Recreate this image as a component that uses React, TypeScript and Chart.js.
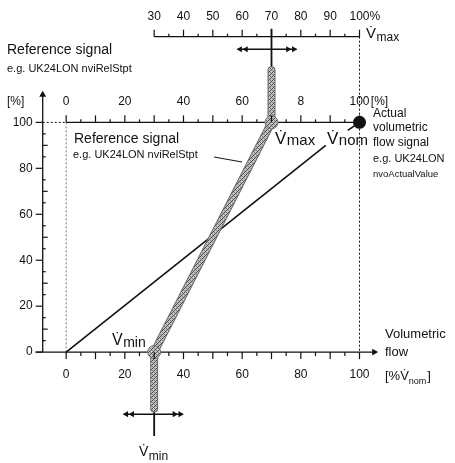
import React, { useEffect, useRef } from 'react';
import { Chart, registerables } from 'chart.js';

Chart.register(...registerables);

const FONT = '"Liberation Sans", Arial, Helvetica, sans-serif';

// Characteristic curves (x = volumetric flow in % of V̇nom, y = signal in %)
const referenceX = [70, 70, 30, 30];
const referenceY = [122.7, 100, 0, -24.5];
const actualX = [0, 88.5];
const actualY = [0, 90];
const settingX = [70, 30]; // V̇max, V̇min
const settingY = [100, 0];
const nominalX = [100];
const nominalY = [100];

// Axis ticks and labels
const flowTicks = [0, 20, 40, 60, 80, 100];
const flowLabels = ['0', '20', '40', '60', '80', '100'];
const signalTicks = [0, 20, 40, 60, 80, 100];
const signalLabels = ['0', '20', '40', '60', '80', '100'];
const topTicks = [0, 20, 40, 60, 80, 100];
const topLabels = ['0', '20', '40', '60', '8', '100'];
const vmaxTicks = [30, 40, 50, 60, 70, 80, 90, 100];
const vmaxLabels = ['30', '40', '50', '60', '70', '80', '90', '100%'];

// frame constants (data units)
const X_MIN = -20, X_MAX = 130, Y_MIN = -45, Y_MAX = 150;
const VMAX_SCALE_Y = 137.3;
const YAXIS_X = -8;
const XAXIS_END = 105;
const YAXIS_END = 112;
const TOP_ARROW_Y = 131.8;
const BOTTOM_ARROW_Y = -27;

const pts = (xs: number[], ys: number[]) => xs.map((x, i) => ({ x, y: ys[i] }));

function makePattern(): CanvasPattern | string {
  const c = document.createElement('canvas');
  c.width = 4; c.height = 4;
  const g = c.getContext('2d');
  if (!g) return '#999';
  g.fillStyle = '#c4c4c4';
  g.fillRect(0, 0, 4, 4);
  g.fillStyle = '#4a4a4a';
  g.fillRect(0, 0, 1, 1); g.fillRect(2, 2, 1, 1); g.fillRect(1, 3, 1, 1); g.fillRect(3, 1, 1, 1);
  g.fillStyle = '#7c7c7c';
  g.fillRect(2, 0, 1, 1); g.fillRect(0, 2, 1, 1);
  const p = g.createPattern(c, 'repeat');
  return p || '#999';
}

function vLabel(ctx: CanvasRenderingContext2D, x: number, base: number, size: number, sub: string, subSize: number, drop: number) {
  ctx.textAlign = 'left';
  ctx.textBaseline = 'alphabetic';
  ctx.font = `${size}px ${FONT}`;
  ctx.fillText('V\u0307', x, base);
  const w = ctx.measureText('V').width;
  ctx.font = `${subSize}px ${FONT}`;
  ctx.fillText(sub, x + w + 0.5, base + drop);
}

const diagramPlugin = {
  id: 'diagram',
  afterDatasetsDraw(chart: any) {
    const ctx: CanvasRenderingContext2D = chart.ctx;
    const xs = chart.scales.x, ys = chart.scales.y;
    const px = (v: number) => xs.getPixelForValue(v);
    const py = (v: number) => ys.getPixelForValue(v);
    ctx.save();
    ctx.strokeStyle = '#111';
    ctx.fillStyle = '#111';
    ctx.lineWidth = 1.2;
    const line = (x1: number, y1: number, x2: number, y2: number) => {
      ctx.beginPath(); ctx.moveTo(x1, y1); ctx.lineTo(x2, y2); ctx.stroke();
    };
    // x axis ticks (below)
    for (let v = 0; v <= 100; v += 5) {
      const len = v % 10 === 0 ? 7 : 4;
      line(px(v), py(0), px(v), py(0) + len);
    }
    // top frame ticks (above)
    for (let v = 0; v <= 100; v += 5) {
      const len = v % 10 === 0 ? 7 : 3;
      line(px(v), py(100), px(v), py(100) - len);
    }
    // V̇max scale ticks (above)
    for (let v = 30; v <= 100; v += 5) {
      const len = v % 10 === 0 ? 7 : 3;
      line(px(v), py(VMAX_SCALE_Y), px(v), py(VMAX_SCALE_Y) - len);
    }
    // y axis ticks
    for (let v = 0; v <= 100; v += 5) {
      if (v % 20 === 0) line(px(YAXIS_X) - 7, py(v), px(YAXIS_X), py(v));
      else {
        const len = v % 10 === 0 ? 5 : 3;
        line(px(YAXIS_X), py(v), px(YAXIS_X) + len, py(v));
      }
    }
    // labels
    ctx.font = `12px ${FONT}`;
    ctx.textBaseline = 'middle';
    ctx.textAlign = 'center';
    flowTicks.forEach((v, i) => ctx.fillText(flowLabels[i], px(v), py(0) + 23));
    ctx.textAlign = 'right';
    signalTicks.forEach((v, i) => ctx.fillText(signalLabels[i], px(YAXIS_X) - 10, py(v)));
    ctx.textAlign = 'center';
    topTicks.forEach((v, i) => ctx.fillText(topLabels[i], px(v), py(100) - 21));
    ctx.textAlign = 'left';
    ctx.fillText(' [%]', px(100) + ctx.measureText('100').width / 2 - 2, py(100) - 21);
    vmaxTicks.forEach((v, i) => {
      const lbl = vmaxLabels[i];
      if (lbl.endsWith('%')) {
        const num = lbl.slice(0, -1);
        ctx.textAlign = 'center';
        ctx.fillText(num, px(v), py(VMAX_SCALE_Y) - 20);
        ctx.textAlign = 'left';
        ctx.fillText('%', px(v) + ctx.measureText(num).width / 2, py(VMAX_SCALE_Y) - 20);
      } else {
        ctx.textAlign = 'center';
        ctx.fillText(lbl, px(v), py(VMAX_SCALE_Y) - 20);
      }
    });
    ctx.textAlign = 'left';
    ctx.fillText('[%]', 7, py(100) - 21);

    // titles and annotations
    ctx.textBaseline = 'middle';
    ctx.font = `14px ${FONT}`;
    ctx.fillText('Reference signal', 7, 50);
    ctx.font = `11px ${FONT}`;
    ctx.fillText('e.g. UK24LON nviRelStpt', 7, 69);

    ctx.font = `14px ${FONT}`;
    ctx.fillText('Reference signal', 74, 139);
    ctx.font = `11px ${FONT}`;
    ctx.fillText('e.g. UK24LON nviRelStpt', 73, 155);
    ctx.lineWidth = 1;
    line(214, 157, 242, 162);

    ctx.font = `12px ${FONT}`;
    ctx.fillText('Actual', 373, 114);
    ctx.fillText('volumetric', 373, 128);
    ctx.fillText('flow signal', 373, 143);
    ctx.font = `11px ${FONT}`;
    ctx.fillText('e.g. UK24LON', 373, 159);
    ctx.font = `9.5px ${FONT}`;
    ctx.fillText('nvoActualValue', 373, 174);

    ctx.font = `13px ${FONT}`;
    ctx.fillText('Volumetric', 385, 334);
    ctx.fillText('flow', 385, 352);
    ctx.textBaseline = 'alphabetic';
    ctx.fillText('[%', 385, 380);
    const w1 = ctx.measureText('[%').width;
    ctx.fillText('V\u0307', 385 + w1, 380);
    const w2 = ctx.measureText('V').width;
    ctx.font = `9px ${FONT}`;
    ctx.fillText('nom', 385 + w1 + w2, 384);
    const w3 = ctx.measureText('nom').width;
    ctx.font = `13px ${FONT}`;
    ctx.fillText(']', 385 + w1 + w2 + w3 + 1, 380);

    vLabel(ctx, 366, 38, 15, 'max', 12, 3);
    vLabel(ctx, 275, 144, 17, 'max', 15, 1);
    vLabel(ctx, 327, 144, 17, 'nom', 15, 1);
    vLabel(ctx, 112, 345, 16, 'min', 14, 2);
    vLabel(ctx, 139, 456, 14, 'min', 12, 4);
    ctx.restore();
  },
};

export default function App() {
  const ref = useRef<HTMLCanvasElement | null>(null);
  useEffect(() => {
    if (!ref.current) return;
    const gray = makePattern();
    const black = '#111';
    const seg = (data: any[], extra: any = {}) => ({
      data, showLine: true, pointRadius: 0, borderColor: black, borderWidth: 1.3, backgroundColor: black, clip: false, ...extra,
    });
    const chart = new Chart(ref.current, {
      type: 'scatter',
      data: {
        datasets: [
          // frame and axes
          seg(pts([YAXIS_X, YAXIS_X], [0, YAXIS_END]), { order: 9 }),
          seg(pts([-10.4, XAXIS_END], [0, 0]), { order: 9 }),
          seg(pts([0, 100], [100, 100]), { order: 9 }),
          seg(pts([YAXIS_X, 0], [100, 100]), { order: 9, borderDash: [2, 2], borderWidth: 1 }),
          seg(pts([0, 0], [100, 0]), { order: 9, borderDash: [2, 2], borderWidth: 1, borderColor: '#777' }),
          seg(pts([100, 100], [VMAX_SCALE_Y, 0]), { order: 9, borderDash: [2, 2], borderWidth: 1 }),
          seg(pts([30, 100], [VMAX_SCALE_Y, VMAX_SCALE_Y]), { order: 9 }),
          // axis arrowheads
          seg(pts([YAXIS_X, XAXIS_END], [YAXIS_END, 0]), {
            order: 8, showLine: false, pointStyle: 'triangle', pointRadius: 4, pointRotation: [0, 90], borderWidth: 0,
          }),
          // actual flow line
          seg(pts(actualX, actualY), { order: 7, borderWidth: 1.6 }),
          // setting adjusters
          seg(pts([70, 70], [140.8, 122.7]), { order: 7, borderWidth: 1.8 }),
          seg(pts([30, 30], [-24.5, -36.5]), { order: 7, borderWidth: 1.8 }),
          seg(pts([58.4, 78.5], [TOP_ARROW_Y, TOP_ARROW_Y]), { order: 7, borderWidth: 1.5 }),
          seg(pts([19.6, 39.8], [BOTTOM_ARROW_Y, BOTTOM_ARROW_Y]), { order: 7, borderWidth: 1.5 }),
          seg(pts([59.3, 61.3, 75.6, 77.6], [TOP_ARROW_Y, TOP_ARROW_Y, TOP_ARROW_Y, TOP_ARROW_Y]), {
            order: 6, showLine: false, pointStyle: 'triangle', pointRadius: 3.5, pointRotation: [-90, -90, 90, 90], borderWidth: 0,
          }),
          seg(pts([20.5, 22.5, 36.9, 38.9], [BOTTOM_ARROW_Y, BOTTOM_ARROW_Y, BOTTOM_ARROW_Y, BOTTOM_ARROW_Y]), {
            order: 6, showLine: false, pointStyle: 'triangle', pointRadius: 3.5, pointRotation: [-90, -90, 90, 90], borderWidth: 0,
          }),
          // reference characteristic (gray)
          seg(pts(referenceX, referenceY), { order: 5, borderColor: '#6a6a6a', borderWidth: 8, borderJoinStyle: 'round' }),
          seg(pts(referenceX, referenceY), { order: 4, borderColor: gray, borderWidth: 6, borderJoinStyle: 'round' }),
          seg(pts(settingX, settingY), {
            order: 3, showLine: false, pointRadius: 6.5, backgroundColor: gray, borderColor: '#777', borderWidth: 1,
          }),
          // nominal point
          seg(pts([100, 96], [100, 96.5]), { order: 2, borderWidth: 1.6 }),
          seg(pts(nominalX, nominalY), { order: 1, showLine: false, pointRadius: 6.5, borderWidth: 0 }),
        ],
      },
      options: {
        responsive: false,
        maintainAspectRatio: false,
        animation: false,
        events: [],
        layout: { padding: { left: 4.4, right: 3.6, top: 5.5, bottom: 3.15 } },
        plugins: { legend: { display: false }, tooltip: { enabled: false } },
        scales: {
          x: { type: 'linear', min: X_MIN, max: X_MAX, display: false },
          y: { type: 'linear', min: Y_MIN, max: Y_MAX, display: false },
        },
      },
      plugins: [diagramPlugin],
    } as any);
    return () => chart.destroy();
  }, []);
  return (
    <div style={{ position: 'absolute', left: 0, top: 0, width: 455, height: 463, background: '#fff' }}>
      <canvas ref={ref} width={455} height={463} style={{ width: 455, height: 463, display: 'block' }} />
    </div>
  );
}
